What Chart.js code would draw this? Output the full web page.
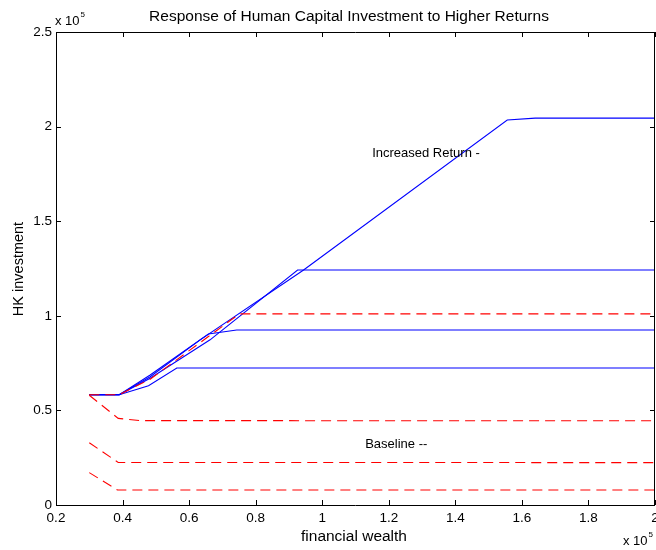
<!DOCTYPE html>
<html>
<head>
<meta charset="utf-8">
<script src="https://cdn.jsdelivr.net/npm/chart.js@4"></script>
<style>
  body { margin: 0; background: #fff; }
  #wrap { width: 656px; height: 550px; }
</style>
</head>
<body>
<div id="wrap"><canvas id="hkChart" width="656" height="550"></canvas></div>
<script>
// values in units of 10^5 (financial wealth on x, HK investment on y)
// baseline (red dashed)
const base1X = [0.30, 0.385, 2.00];
const base1Y = [0.171, 0.079, 0.079];
const base2X = [0.30, 0.387, 2.00];
const base2Y = [0.329, 0.225, 0.224];
const base3X = [0.30, 0.387, 0.453, 2.00];
const base3Y = [0.580, 0.458, 0.446, 0.445];
const base4X = [0.30, 0.39, 0.483, 0.678, 0.733, 0.753, 2.00];
const base4Y = [0.583, 0.583, 0.665, 0.916, 0.987, 1.010, 1.010];

// increased return (blue solid)
const high1X = [0.30, 0.39, 0.478, 0.563, 2.00];
const high1Y = [0.583, 0.583, 0.630, 0.724, 0.724];
const high2X = [0.30, 0.39, 0.483, 0.658, 0.743, 2.00];
const high2Y = [0.583, 0.583, 0.687, 0.904, 0.925, 0.925];
const high3X = [0.30, 0.39, 0.483, 0.663, 0.926, 2.00];
const high3Y = [0.583, 0.583, 0.670, 0.873, 1.242, 1.242];
const high4X = [0.30, 0.39, 0.483, 0.633, 0.944, 1.556, 1.640, 2.00];
const high4Y = [0.583, 0.583, 0.678, 0.873, 1.242, 2.035, 2.045, 2.045];

// text labels placed in data coordinates
const noteText = ['Increased Return -', 'Baseline --'];
const noteX = [1.150, 1.129];
const noteY = [1.86, 0.322];

const FONT = '"Liberation Sans", Arial, sans-serif';

function pts(xs, ys) {
    return xs.map((x, i) => ({ x: x, y: ys[i] }));
}

function baseSet(xs, ys) {
    return {
        data: pts(xs, ys),
        borderColor: '#ff0000',
        borderWidth: 1.1,
        borderDash: [10, 6],
        pointRadius: 0,
        tension: 0,
        order: 0,
    };
}

function highSet(xs, ys) {
    return {
        data: pts(xs, ys),
        borderColor: '#0000ff',
        borderWidth: 1.1,
        pointRadius: 0,
        tension: 0,
        order: 1,
    };
}

// x 10^5 label, superscript right after the base
function expLabel(ctx, x, y) {
    ctx.font = '13px ' + FONT;
    ctx.fillText('x 10', x, y);
    const w = ctx.measureText('x 10').width;
    ctx.font = '8px ' + FONT;
    ctx.fillText('5', x + w + 1, y - 8);
}

// matlab style box, inward ticks and text
const matlabBox = {
    id: 'matlabBox',
    afterDatasetsDraw(chart) {
        const { ctx, chartArea: a, scales } = chart;
        const xs = scales.x, ys = scales.y;
        ctx.save();
        ctx.strokeStyle = '#000';
        ctx.lineWidth = 1;
        ctx.beginPath();
        ctx.rect(a.left + 0.5, a.top + 0.5, a.right - a.left - 1, a.bottom - a.top);
        xs.ticks.forEach(t => {
            const px = Math.round(xs.getPixelForValue(t.value)) + 0.5;
            ctx.moveTo(px, a.bottom); ctx.lineTo(px, a.bottom - 5);
            ctx.moveTo(px, a.top); ctx.lineTo(px, a.top + 5);
        });
        ys.ticks.forEach(t => {
            const py = Math.round(ys.getPixelForValue(t.value)) + 0.5;
            ctx.moveTo(a.left, py); ctx.lineTo(a.left + 5, py);
            ctx.moveTo(a.right, py); ctx.lineTo(a.right - 5, py);
        });
        ctx.stroke();

        ctx.fillStyle = '#000';
        // title
        ctx.font = '15.5px ' + FONT;
        ctx.textAlign = 'center';
        ctx.textBaseline = 'alphabetic';
        ctx.fillText('Response of Human Capital Investment to Higher Returns', 349, 21);

        // axis labels
        ctx.font = '15.5px ' + FONT;
        ctx.fillText('financial wealth', 354, 541);
        ctx.font = '14.5px ' + FONT;
        ctx.save();
        ctx.translate(23, 269);
        ctx.rotate(-Math.PI / 2);
        ctx.fillText('HK investment', 0, 0);
        ctx.restore();

        // exponent labels
        ctx.textAlign = 'left';
        expLabel(ctx, 55, 25);
        expLabel(ctx, 623, 545);

        // annotations
        ctx.font = '13px ' + FONT;
        ctx.textBaseline = 'middle';
        noteText.forEach((s, i) => {
            ctx.fillText(s, xs.getPixelForValue(noteX[i]), ys.getPixelForValue(noteY[i]));
        });
        ctx.restore();
    }
};

function fmt(v) {
    return String(Number(v.toFixed(1)));
}

const ctx = document.getElementById('hkChart').getContext('2d');

new Chart(ctx, {
    type: 'line',
    data: {
        datasets: [
            baseSet(base1X, base1Y),
            baseSet(base2X, base2Y),
            baseSet(base3X, base3Y),
            baseSet(base4X, base4Y),
            highSet(high1X, high1Y),
            highSet(high2X, high2Y),
            highSet(high3X, high3Y),
            highSet(high4X, high4Y),
        ]
    },
    options: {
        responsive: false,
        animation: false,
        layout: { padding: { top: 32, right: 1, left: 0, bottom: 0 } },
        plugins: {
            legend: { display: false },
            tooltip: { enabled: false },
        },
        scales: {
            x: {
                type: 'linear',
                min: 0.2,
                max: 2.0,
                ticks: {
                    stepSize: 0.2,
                    padding: 5,
                    color: '#000',
                    font: { family: FONT, size: 13.5 },
                    maxRotation: 0,
                    callback: v => fmt(v),
                },
                grid: { display: false, drawTicks: false },
                border: { display: false },
                afterFit: s => { s.height = 45; s.paddingLeft = 0; s.paddingRight = 0; },
            },
            y: {
                type: 'linear',
                min: 0,
                max: 2.5,
                ticks: {
                    stepSize: 0.5,
                    padding: 4,
                    color: '#000',
                    font: { family: FONT, size: 13.5 },
                    callback: v => fmt(v),
                },
                grid: { display: false, drawTicks: false },
                border: { display: false },
                afterFit: s => { s.width = 56; s.paddingTop = 0; s.paddingBottom = 0; },
            }
        }
    },
    plugins: [matlabBox]
});
</script>
</body>
</html>
